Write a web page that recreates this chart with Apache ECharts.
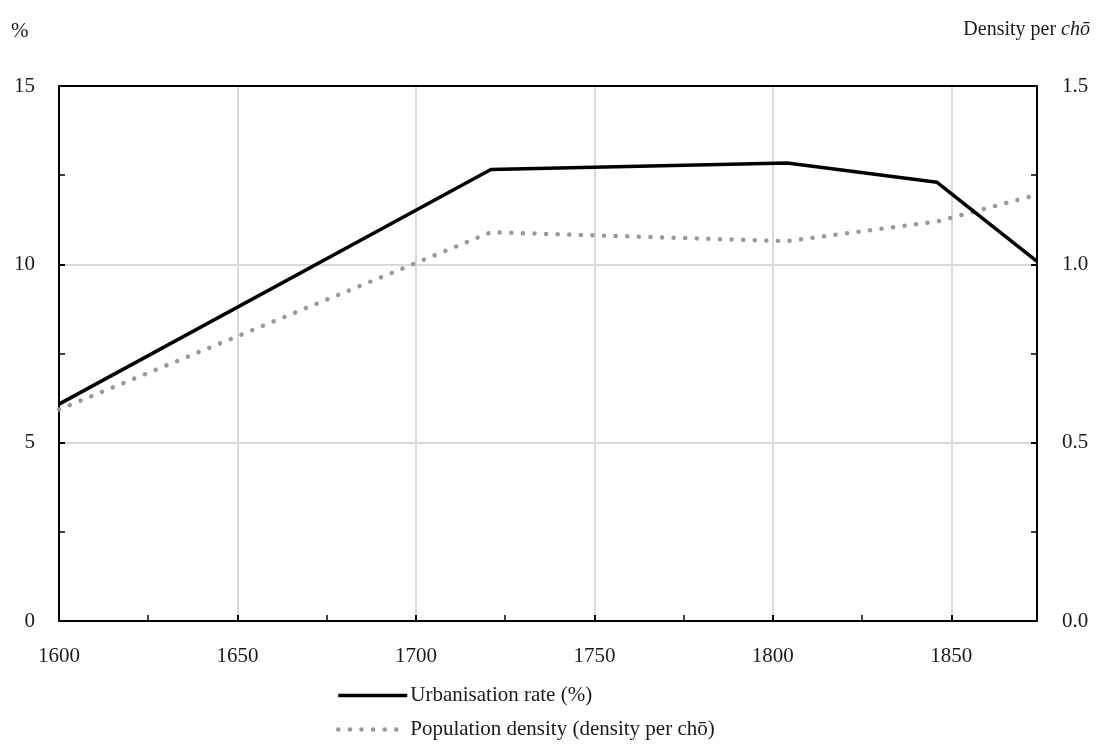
<!DOCTYPE html>
<html>
<head>
<meta charset="utf-8">
<script src="https://cdn.jsdelivr.net/npm/echarts@6/dist/echarts.min.js"></script>
<style>html,body{margin:0;padding:0;background:#fff}#c{width:1096px;height:749px}</style>
</head>
<body>
<div id="c"></div>
<script>
const years = [1600, 1721, 1804, 1846, 1874];
const urbanisation = [6.08, 12.66, 12.84, 12.3, 10.08];
const densityYears = [1600, 1721, 1804, 1846, 1874];
const density = [0.593, 1.09, 1.065, 1.12, 1.195];
const leftTicks = [0, 5, 10, 15];
const rightTicks = [0.0, 0.5, 1.0, 1.5];
const seriesNames = ['Urbanisation rate (%)', 'Population density (density per chō)'];

const FONT = '"Liberation Serif", "Times New Roman", serif';
const chart = echarts.init(document.getElementById('c'), null, {renderer: 'canvas'});
const blackLine = {color: '#000', width: 3.5, type: 'solid'};
const grayDot = {color: '#999', width: 4.5, type: [0.1, 11.5], cap: 'round'};
chart.setOption({
  animation: false,
  backgroundColor: '#fff',
  textStyle: {fontFamily: FONT},
  grid: {left: 59, right: 59, top: 86, bottom: 128, containLabel: false},
  legend: {
    orient: 'vertical', left: 331, top: 680, itemWidth: 69, itemHeight: 14, itemGap: 13,
    textStyle: {fontFamily: FONT, fontSize: 21, color: '#1a1a1a', padding: [0, 0, 0, -2]},
    data: [
      {name: seriesNames[0], itemStyle: {opacity: 0}, lineStyle: blackLine},
      {name: seriesNames[1], itemStyle: {opacity: 0}, lineStyle: grayDot}
    ]
  },
  graphic: [
    {type: 'text', left: 11, top: 21, style: {text: '%', font: '21px ' + FONT, fill: '#1a1a1a'}},
    {type: 'text', right: 6, top: 20, style: {
      text: 'Density per {i|chō}', font: '20px ' + FONT, fill: '#1a1a1a',
      rich: {i: {fontStyle: 'italic', fontFamily: FONT, fontSize: 20, fill: '#1a1a1a'}}
    }}
  ],
  xAxis: [{
    type: 'value', min: 1600, max: 1874, interval: 50,
    axisLine: {show: true, lineStyle: {color: '#000', width: 2}},
    axisTick: {show: true, inside: true, length: 6, lineStyle: {color: '#000', width: 2}},
    minorTick: {show: true, splitNumber: 2, length: 6, lineStyle: {color: '#000', width: 1.5}},
    axisLabel: {fontSize: 21, color: '#1a1a1a', margin: 25, showMaxLabel: false, fontFamily: FONT,
      formatter: v => String(v)},
    splitLine: {show: true, lineStyle: {color: '#d9d9d9', width: 2}}
  }, {
    type: 'value', min: 1600, max: 1874, position: 'top',
    axisLine: {show: true, onZero: false, lineStyle: {color: '#000', width: 2}},
    axisTick: {show: false}, axisLabel: {show: false}, splitLine: {show: false}
  }],
  yAxis: [
    {
      type: 'value', min: 0, max: 15, interval: 5, position: 'left',
      axisLine: {show: true, lineStyle: {color: '#000', width: 2}},
      axisTick: {show: true, inside: true, length: 6, lineStyle: {color: '#000', width: 2}},
      minorTick: {show: true, splitNumber: 2, length: 6, lineStyle: {color: '#000', width: 1.5}},
      axisLabel: {fontSize: 21, color: '#1a1a1a', margin: 24, fontFamily: FONT,
        formatter: v => leftTicks.includes(v) ? String(v) : ''},
      splitLine: {show: true, lineStyle: {color: '#d9d9d9', width: 2}}
    },
    {
      type: 'value', min: 0, max: 1.5, interval: 0.5, position: 'right',
      axisLine: {show: true, lineStyle: {color: '#000', width: 2}},
      axisTick: {show: true, inside: true, length: 6, lineStyle: {color: '#000', width: 2}},
      minorTick: {show: true, splitNumber: 2, length: 6, lineStyle: {color: '#000', width: 1.5}},
      axisLabel: {fontSize: 21, color: '#1a1a1a', margin: 25, fontFamily: FONT,
        formatter: v => { const t = rightTicks.find(r => Math.abs(r - v) < 1e-9); return t === undefined ? '' : t.toFixed(1); }},
      splitLine: {show: false}
    }
  ],
  series: [
    {
      name: seriesNames[0], type: 'line', xAxisIndex: 0, yAxisIndex: 0, showSymbol: false, symbol: 'none',
      data: years.map((y, i) => [y, urbanisation[i]]),
      lineStyle: blackLine,
      itemStyle: {color: '#000'}, z: 3
    },
    {
      name: seriesNames[1], type: 'line', xAxisIndex: 0, yAxisIndex: 1, showSymbol: false, symbol: 'none',
      data: densityYears.map((y, i) => [y, density[i]]),
      lineStyle: grayDot,
      itemStyle: {color: '#999'}, z: 2
    }
  ]
});
</script>
</body>
</html>
